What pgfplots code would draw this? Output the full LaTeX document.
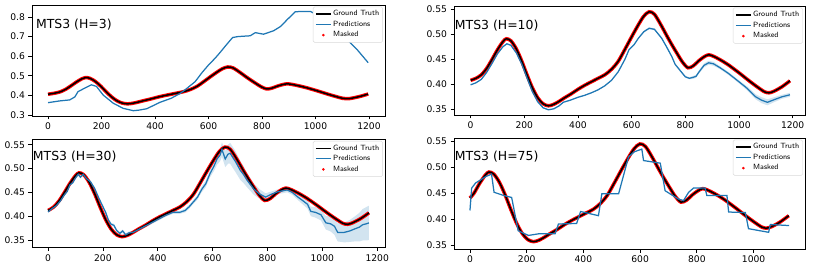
\documentclass[border=0pt]{standalone}
\usepackage{fontspec}
\setmainfont{DejaVu Sans}
\usepackage{pgfplots}
\usepackage{pgfplotstable}
\pgfplotsset{compat=1.18}
\definecolor{mplblue}{RGB}{31,119,180}
\definecolor{bandblue}{RGB}{210,228,240}
\pgfplotsset{
  mpl/.style={
    scale only axis, anchor=south west,
    axis line style={line width=0.8bp},
    tick align=outside, tick pos=left, major tick length=3.5bp,
    every tick/.style={black, line width=0.8bp},
    ticklabel style={font=\fontsize{9.2}{10}\selectfont},
    /pgf/number format/assume math mode=true,
    /pgf/number format/1000 sep={},
    legend cell align=left,
    legend image code/.code={\draw[#1] (0bp,0bp)--(15bp,0bp);},
    legend style={at={(0.994,0.985)}, anchor=north east, draw=black!15, fill=white,
      rounded corners=1.5bp, font=\fontsize{7.6}{8}\selectfont\sffamily,
      inner xsep=2bp, inner ysep=2bp, row sep=0pt,
      nodes={inner sep=1.5bp, text height=5.5bp, text depth=2bp}},
  },
  yfmt2/.style={yticklabel style={/pgf/number format/.cd, fixed, fixed zerofill, precision=2}},
  gt/.style={black, line width=1.5bp, smooth, forget plot},
  mk/.style={red, line width=3.5bp, smooth, forget plot},
  pr/.style={mplblue, line width=1.25bp, forget plot},
}
\newcommand{\titl}[2]{\node[anchor=base west, inner sep=0pt, font=\fontsize{12.5}{14}\selectfont] at (rel axis cs:#1) {#2};}
\newcommand{\legs}{%
  \addlegendimage{black, line width=1.5bp}
  \addlegendimage{mplblue, line width=1.25bp}
  \addlegendimage{legend image code/.code={\fill[red] (7.5bp,0bp) circle (1.1bp);}}
  \legend{Ground Truth, Predictions, Masked}}

% ---- ground truth, one table per panel
\pgfplotstableread{
x y
0 0.406
27 0.412
47 0.419
67 0.432
87 0.450
107 0.469
127 0.485
140 0.491
157 0.487
177 0.471
197 0.447
217 0.419
237 0.393
257 0.373
277 0.361
297 0.357
317 0.360
337 0.366
357 0.373
382 0.381
407 0.390
432 0.398
457 0.405
482 0.412
507 0.419
532 0.430
557 0.446
582 0.470
607 0.495
632 0.519
652 0.536
672 0.545
692 0.540
719 0.516
737 0.498
757 0.479
777 0.461
797 0.444
817 0.433
837 0.437
857 0.447
877 0.455
894 0.459
912 0.456
937 0.449
967 0.439
1007 0.423
1047 0.406
1077 0.394
1102 0.385
1119 0.383
1137 0.386
1167 0.395
1197 0.407
}\gtA
\pgfplotstableread{
x y
0 0.408
20 0.412
40 0.419
60 0.432
80 0.450
100 0.469
120 0.485
133 0.491
150 0.487
170 0.471
190 0.447
210 0.419
230 0.393
250 0.373
270 0.361
290 0.357
310 0.360
330 0.366
350 0.373
375 0.381
400 0.390
425 0.398
450 0.405
475 0.412
500 0.419
525 0.430
550 0.446
575 0.470
600 0.495
625 0.519
645 0.536
665 0.545
685 0.540
712 0.516
730 0.498
750 0.479
770 0.461
790 0.444
810 0.433
830 0.437
850 0.447
870 0.455
887 0.459
905 0.456
930 0.449
960 0.439
1000 0.423
1040 0.406
1070 0.394
1095 0.385
1112 0.383
1130 0.386
1160 0.395
1190 0.407
}\gtB
\pgfplotstableread{
x y
0 0.412
20 0.419
40 0.432
60 0.450
80 0.469
100 0.485
113 0.491
130 0.487
150 0.471
170 0.447
190 0.419
210 0.393
230 0.373
250 0.361
270 0.357
290 0.360
310 0.366
330 0.373
355 0.381
380 0.390
405 0.398
430 0.405
455 0.412
480 0.419
505 0.430
530 0.446
555 0.470
580 0.495
605 0.519
625 0.536
645 0.545
665 0.540
692 0.516
710 0.498
730 0.479
750 0.461
770 0.444
790 0.433
810 0.437
830 0.447
850 0.455
867 0.459
885 0.456
910 0.449
940 0.439
980 0.423
1020 0.406
1050 0.394
1075 0.385
1092 0.383
1110 0.386
1140 0.395
1170 0.407
}\gtC
\pgfplotstableread{
x y
0 0.441
14 0.450
34 0.469
54 0.485
67 0.491
84 0.487
104 0.471
124 0.447
144 0.419
164 0.393
184 0.373
204 0.361
224 0.357
244 0.360
264 0.366
284 0.373
309 0.381
334 0.390
359 0.398
384 0.405
409 0.412
434 0.419
459 0.430
484 0.446
509 0.470
534 0.495
559 0.519
579 0.536
599 0.545
619 0.540
646 0.516
664 0.498
684 0.479
704 0.461
724 0.444
744 0.433
764 0.437
784 0.447
804 0.455
821 0.459
839 0.456
864 0.449
894 0.439
934 0.423
974 0.406
1004 0.394
1029 0.385
1046 0.383
1064 0.386
1094 0.395
1124 0.407
}\gtD

% ---- predictions (w = half width of the shaded band)
\pgfplotstableread{
x y
0 0.363
44 0.372
81 0.377
100 0.392
112 0.419
137 0.437
162 0.454
181 0.446
206 0.402
244 0.360
281 0.334
319 0.322
340 0.325
369 0.332
419 0.365
460 0.385
494 0.410
512 0.428
550 0.470
575 0.515
600 0.555
625 0.590
644 0.620
665 0.655
690 0.695
710 0.700
756 0.704
775 0.720
806 0.712
844 0.730
870 0.752
894 0.786
925 0.827
981 0.828
1031 0.795
1106 0.701
1156 0.633
1197 0.567
}\prA
\pgfplotstableread{
x y w
0 0.399 0.001
20 0.403 0.001
40 0.410 0.001
60 0.424 0.001
80 0.442 0.001
100 0.461 0.001
120 0.475 0.001
135 0.481 0.001
150 0.478 0.001
170 0.463 0.001
190 0.441 0.001
210 0.413 0.001
230 0.385 0.001
250 0.365 0.001
270 0.353 0.001
290 0.349 0.001
310 0.351 0.001
330 0.357 0.001
345 0.364 0.001
370 0.368 0.001
400 0.374 0.001
425 0.378 0.001
450 0.383 0.001
475 0.389 0.001
500 0.397 0.001
525 0.408 0.001
550 0.425 0.001
575 0.450 0.001
590 0.469 0.001
610 0.480 0.001
625 0.492 0.001
645 0.505 0.002
665 0.512 0.002
685 0.510 0.002
712 0.492 0.002
730 0.475 0.002
750 0.455 0.002
762 0.440 0.002
780 0.428 0.002
800 0.415 0.002
815 0.412 0.002
830 0.414 0.003
840 0.416 0.003
850 0.424 0.003
870 0.438 0.004
887 0.443 0.004
905 0.441 0.004
930 0.433 0.003
960 0.422 0.003
1000 0.405 0.003
1030 0.392 0.004
1062 0.375 0.005
1085 0.368 0.006
1106 0.364 0.006
1130 0.369 0.005
1160 0.375 0.004
1190 0.379 0.004
}\prB
\pgfplotstableread{
x y w
0 0.409 0.002
15 0.416 0.002
30 0.422 0.002
45 0.432 0.002
60 0.445 0.002
70 0.452 0.002
80 0.466 0.002
90 0.470 0.002
100 0.480 0.003
110 0.488 0.003
118 0.482 0.003
128 0.488 0.003
140 0.479 0.003
155 0.472 0.003
170 0.458 0.003
185 0.438 0.003
200 0.420 0.003
210 0.408 0.003
220 0.392 0.003
230 0.383 0.003
240 0.381 0.003
250 0.370 0.003
262 0.364 0.003
272 0.369 0.003
283 0.361 0.003
295 0.365 0.003
310 0.366 0.003
330 0.372 0.003
360 0.381 0.003
400 0.393 0.003
430 0.402 0.003
455 0.408 0.003
480 0.408 0.003
500 0.412 0.004
515 0.420 0.004
530 0.430 0.004
545 0.440 0.005
560 0.456 0.006
575 0.468 0.007
591 0.490 0.008
605 0.505 0.010
616 0.520 0.012
627 0.528 0.013
634 0.540 0.015
646 0.520 0.017
656 0.530 0.020
664 0.532 0.022
675 0.522 0.022
683 0.515 0.022
701 0.496 0.020
712 0.488 0.018
725 0.476 0.015
750 0.457 0.012
770 0.447 0.010
793 0.440 0.008
810 0.445 0.006
836 0.451 0.005
872 0.455 0.005
890 0.450 0.005
909 0.441 0.006
930 0.432 0.008
946 0.425 0.009
958 0.410 0.010
975 0.408 0.011
995 0.403 0.012
1013 0.386 0.014
1030 0.384 0.016
1044 0.379 0.018
1056 0.366 0.019
1080 0.366 0.021
1100 0.369 0.023
1117 0.373 0.026
1135 0.377 0.030
1147 0.382 0.033
1160 0.384 0.035
1170 0.386 0.036
}\prC
\pgfplotstableread{
x y
0 0.417
6 0.460
20 0.470
35 0.475
55 0.482
76 0.487
85 0.452
118 0.446
147 0.442
170 0.378
206 0.369
241 0.372
300 0.372
312 0.391
376 0.392
390 0.415
453 0.407
465 0.449
524 0.449
559 0.520
580 0.530
606 0.535
612 0.513
671 0.508
688 0.455
735 0.439
753 0.436
771 0.452
788 0.460
829 0.460
835 0.446
906 0.446
912 0.414
971 0.413
982 0.382
1053 0.375
1059 0.390
1125 0.388
}\prD

\begin{document}
\begin{tikzpicture}
\path[use as bounding box] (0bp,0bp) rectangle (814bp,268bp);

% ---- panel 1
\begin{axis}[mpl, at={(32bp,152bp)}, width=353bp, height=111bp,
  xmin=-60, xmax=1260, ymin=0.295, ymax=0.861,
  xtick={0,200,...,1200}, ytick={0.3,0.4,0.5,0.6,0.7,0.8},
  yticklabel style={/pgf/number format/.cd, fixed, fixed zerofill, precision=1}]
\addplot[mk] table[x=x,y=y] {\gtA};
\addplot[gt] table[x=x,y=y] {\gtA};
\addplot[pr] table[x=x,y=y] {\prA};
\legs
\titl{0.011,0.784}{MTS3 (H=3)}
\end{axis}

% ---- panel 2
\begin{axis}[mpl, yfmt2, at={(454bp,153bp)}, width=351bp, height=109bp,
  xmin=-62, xmax=1246, ymin=0.3386, ymax=0.5566,
  xtick={0,200,...,1200}, ytick={0.35,0.40,0.45,0.50,0.55}]
\addplot[draw=none, stack plots=y, forget plot] table[x=x, y expr=\thisrow{y}-\thisrow{w}] {\prB};
\addplot[fill=bandblue, draw=none, stack plots=y, forget plot] table[x=x, y expr=2*\thisrow{w}] {\prB} \closedcycle;
\addplot[mk] table[x=x,y=y] {\gtB};
\addplot[gt] table[x=x,y=y] {\gtB};
\addplot[pr] table[x=x,y=y] {\prB};
\legs
\titl{0.002,0.78}{MTS3 (H=10)}
\end{axis}

% ---- panel 3
\begin{axis}[mpl, yfmt2, at={(32bp,20.7bp)}, width=353bp, height=108bp,
  xmin=-58.5, xmax=1228.5, ymin=0.3347, ymax=0.5613,
  xtick={0,200,...,1200}, ytick={0.35,0.40,0.45,0.50,0.55}]
\addplot[draw=none, stack plots=y, forget plot] table[x=x, y expr=\thisrow{y}-\thisrow{w}] {\prC};
\addplot[fill=bandblue, draw=none, stack plots=y, forget plot] table[x=x, y expr=2*\thisrow{w}] {\prC} \closedcycle;
\addplot[mk] table[x=x,y=y] {\gtC};
\addplot[gt] table[x=x,y=y] {\gtC};
\addplot[pr] table[x=x,y=y] {\prC};
\legs
\titl{0.002,0.80}{MTS3 (H=30)}
\end{axis}

% ---- panel 4
\begin{axis}[mpl, yfmt2, at={(454bp,19bp)}, width=351bp, height=111bp,
  xmin=-56.25, xmax=1181.25, ymin=0.3429, ymax=0.5564,
  xtick={0,200,...,1000}, ytick={0.35,0.40,0.45,0.50,0.55}]
\addplot[mk] table[x=x,y=y] {\gtD};
\addplot[gt] table[x=x,y=y] {\gtD};
\addplot[pr] table[x=x,y=y] {\prD};
\legs
\titl{0.002,0.795}{MTS3 (H=75)}
\end{axis}
\end{tikzpicture}
\end{document}
